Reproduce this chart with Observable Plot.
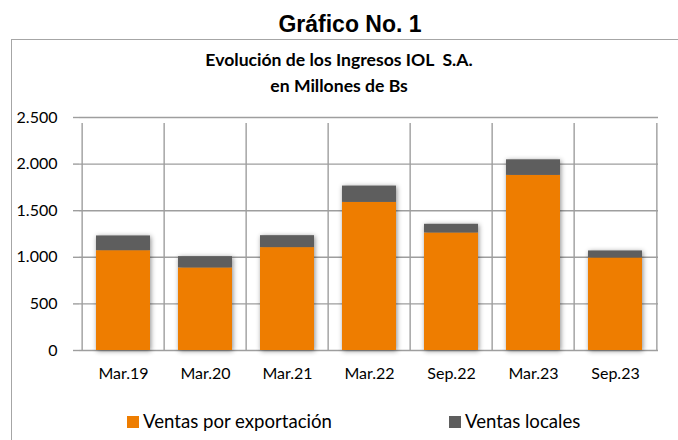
<!DOCTYPE html>
<html>
<head>
<meta charset="utf-8">
<script src="https://cdn.jsdelivr.net/npm/d3@7"></script>
<script src="https://cdn.jsdelivr.net/npm/@observablehq/plot@0.6"></script>
<style>
  html, body { margin: 0; padding: 0; background: #fff; }
  #page { position: relative; width: 678px; height: 440px; overflow: hidden; background: #fff; font-family: Lato, sans-serif; }
  #title { position: absolute; left: 0; top: 13px; width: 700px; text-align: center; font: bold 23px/23px "Liberation Sans", Arial, sans-serif; color: #000; }
  #frame { position: absolute; left: 11px; top: 39px; width: 720px; height: 440px; border: 1.3px solid #a6a6a6; box-sizing: border-box; }
  #subtitle { position: absolute; left: 0; top: 47px; width: 678px; text-align: center; font: bold 17.6px/26px Lato, sans-serif; color: #000; }
  #chart { position: absolute; left: 0; top: 0; }
  .leg { position: absolute; font: 18.6px/20px Lato, sans-serif; color: #000; white-space: nowrap; }
  .sw { position: absolute; width: 12px; height: 12px; }
</style>
</head>
<body>
<div id="page">
  <div id="title">Gráfico No. 1</div>
  <div id="frame"></div>
  <div id="chart"></div>
  <div id="subtitle">Evolución de los Ingresos IOL&nbsp; S.A.<br>en Millones de Bs</div>
  <div id="legend"></div>
</div>
<script>
const categories = ["Mar.19", "Mar.20", "Mar.21", "Mar.22", "Sep.22", "Mar.23", "Sep.23"];
const exportacion = [1071, 886, 1104, 1589, 1261, 1879, 993];
const locales = [158, 121, 128, 175, 93, 167, 75];
const seriesNames = ["Ventas por exportación", "Ventas locales"];
const seriesColors = ["#EE7D00", "#5E5E5E"];
const yTicks = [0, 500, 1000, 1500, 2000, 2500];

const data = [];
categories.forEach((c, i) => {
  data.push({cat: c, series: seriesNames[0], value: exportacion[i]});
  data.push({cat: c, series: seriesNames[1], value: locales[i]});
});

const W = 678, H = 440;
const mL = 79, mR = 20, mT = 117, mB = 90;
const bw = (W - mL - mR) / categories.length;
const fmt = d3.formatLocale({decimal: ",", thousands: ".", grouping: [3], currency: ["", ""]}).format(",");
const grid = "#9e9e9e";

const chart = Plot.plot({
  width: W,
  height: H,
  marginLeft: mL,
  marginRight: mR,
  marginTop: mT,
  marginBottom: mB,
  style: {fontFamily: "Lato, sans-serif", fontSize: "16px", color: "#000", background: "transparent", overflow: "visible"},
  x: {domain: categories, padding: 0, label: null},
  y: {domain: [0, 2500], label: null},
  color: {domain: seriesNames, range: seriesColors},
  marks: [
    Plot.gridY(yTicks, {stroke: grid, strokeOpacity: 1, strokeWidth: 1.4}),
    Plot.axisY(yTicks, {tickSize: 6, tickPadding: 16, tickFormat: fmt, stroke: grid, strokeOpacity: 1, strokeWidth: 1.4, fontSize: 16, label: null}),
    Plot.ruleX(categories, {x: d => d, dx: -bw / 2, y1: 0, y2: 2500, insetBottom: -6, stroke: grid, strokeWidth: 1.4}),
    Plot.ruleX(categories.slice(-1), {x: d => d, dx: bw / 2, y1: 0, y2: 2500, insetBottom: -6, stroke: grid, strokeWidth: 1.4}),
    Plot.barY(data, {x: "cat", y: "value", fill: "series", order: seriesNames, insetLeft: 14, insetRight: 14}),
    Plot.axisX({tickSize: 0, tickPadding: 17, fontSize: 16, label: null})
  ]
});
document.getElementById("chart").appendChild(chart);
chart.querySelectorAll('g[aria-label="bar"]').forEach(g => {
  g.style.filter = "drop-shadow(1px 1px 2.5px rgba(0,0,0,0.45))";
});

// legend
const legend = document.getElementById("legend");
const legPos = [{sw: 127, tx: 143}, {sw: 449, tx: 465}];
seriesNames.forEach((name, i) => {
  const s = document.createElement("div");
  s.className = "sw";
  s.style.left = legPos[i].sw + "px";
  s.style.top = "416px";
  s.style.background = seriesColors[i];
  legend.appendChild(s);
  const t = document.createElement("div");
  t.className = "leg";
  t.style.left = legPos[i].tx + "px";
  t.style.top = "411px";
  t.textContent = name;
  legend.appendChild(t);
});
</script>
</body>
</html>
